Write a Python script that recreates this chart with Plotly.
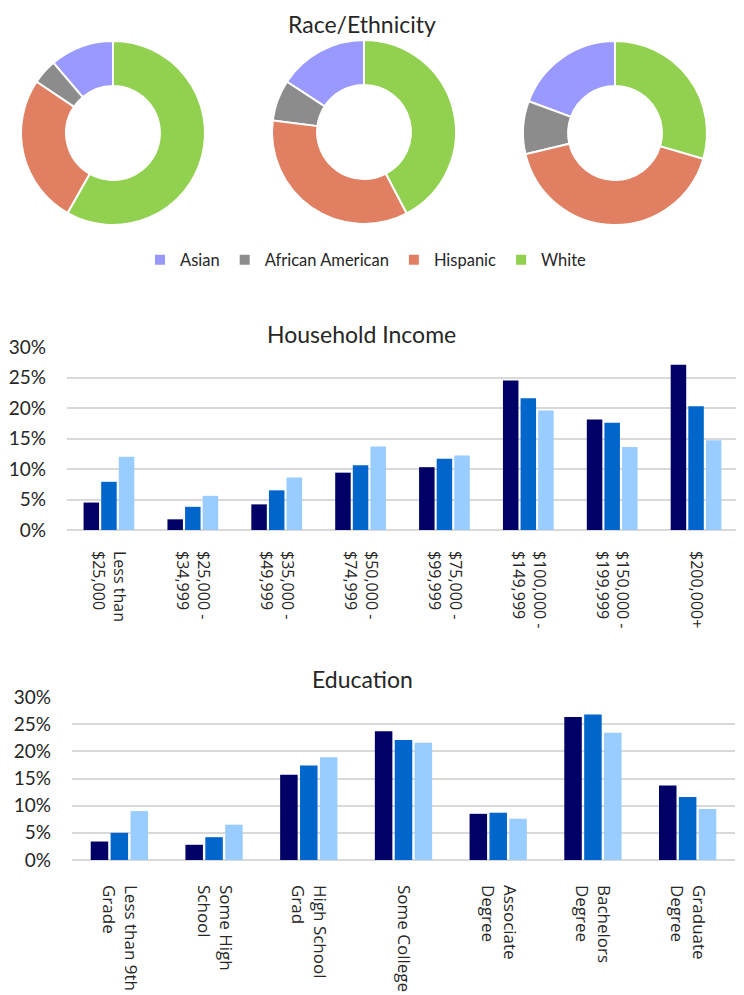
import plotly.graph_objects as go

# ---------------- data ----------------
race_labels = ["Asian", "African American", "Hispanic", "White"]
race_colors = ["#9999FF", "#8C8C8C", "#E07F62", "#92D050"]
race_group1 = [11.2, 4.4, 26.2, 58.2]
race_group2 = [15.8, 7.2, 34.7, 42.3]
race_group3 = [19.4, 9.3, 41.8, 29.5]

income_cats = ["Less than<br>$25,000", "$25,000 -<br>$34,999", "$35,000 -<br>$49,999",
               "$50,000 -<br>$74,999", "$75,000 -<br>$99,999", "$100,000 -<br>$149,999",
               "$150,000 -<br>$199,999", "$200,000+"]
income_s1 = [4.5, 1.75, 4.2, 9.4, 10.3, 24.5, 18.1, 27.1]
income_s2 = [7.9, 3.8, 6.5, 10.6, 11.7, 21.6, 17.6, 20.3]
income_s3 = [12.0, 5.6, 8.6, 13.7, 12.2, 19.6, 13.6, 14.7]

edu_cats = ["Less than 9th<br>Grade", "Some High<br>School", "High School<br>Grad",
            "Some College", "Associate<br>Degree", "Bachelors<br>Degree", "Graduate<br>Degree"]
edu_s1 = [3.4, 2.8, 15.7, 23.7, 8.5, 26.3, 13.7]
edu_s2 = [5.0, 4.2, 17.4, 22.1, 8.7, 26.8, 11.6]
edu_s3 = [9.0, 6.5, 18.9, 21.6, 7.6, 23.4, 9.4]

series_names = ["Series 1", "Series 2", "Series 3"]
bar_colors = ["#000066", "#0066CC", "#99CCFF"]
pct_ticks = [0, 5, 10, 15, 20, 25, 30]
pct_text = [f"{t}%" for t in pct_ticks]

# page body has an 8px margin, so the figure fits inside the window
OFF = 8
W, H = 744 - OFF, 995 - OFF
def px(x): return (x - OFF) / W
def py(y): return 1 - (y - OFF) / H

fig = go.Figure()

# ---------------- donuts ----------------
donut_centers = [(113, 133), (364, 132), (615, 133)]
R = 92
for i, (vals, (cx, cy)) in enumerate(zip([race_group1, race_group2, race_group3], donut_centers)):
    # counterclockwise from 12 o'clock (plotly offsets ccw start by first slice)
    rot = -vals[0] / sum(vals) * 360
    fig.add_trace(go.Pie(
        labels=race_labels, values=vals, sort=False, direction="counterclockwise",
        rotation=rot, hole=0.51, textinfo="none", hoverinfo="label+percent",
        marker=dict(colors=race_colors, line=dict(color="white", width=2)),
        domain=dict(x=[px(cx - R), px(cx + R)], y=[py(cy + R), py(cy - R)]),
        showlegend=(i == 0),
    ))

# ---------------- bars ----------------
for name, col, v in zip(series_names, bar_colors, [income_s1, income_s2, income_s3]):
    fig.add_trace(go.Bar(x=income_cats, y=v, name=name, marker_color=col,
                         marker_line_width=0, showlegend=False,
                         xaxis="x", yaxis="y"))
for name, col, v in zip(series_names, bar_colors, [edu_s1, edu_s2, edu_s3]):
    fig.add_trace(go.Bar(x=edu_cats, y=v, name=name, marker_color=col,
                         marker_line_width=0, showlegend=False,
                         xaxis="x2", yaxis="y2"))

title_font = dict(family="Lato, Open Sans, sans-serif", size=23, color="#262626")
ytick_font = dict(family="Lato, Open Sans, sans-serif", size=19, color="#262626")

yaxis_common = dict(range=[0, 30], tickmode="array", tickvals=pct_ticks, ticktext=pct_text,
                    showgrid=True, gridcolor="#D9D9D9", gridwidth=1.5,
                    zeroline=True, zerolinecolor="#D9D9D9", zerolinewidth=1.5,
                    showline=False, ticks="", tickfont=ytick_font,
                    ticklabelstandoff=20, fixedrange=True, automargin=False)
xaxis_common = dict(tickangle=90, showline=False, ticks="",
                    showgrid=False, zeroline=False, fixedrange=True, automargin=False)

fig.update_layout(
    template="none",
    width=W, height=H,
    margin=dict(l=0, r=0, t=0, b=0, pad=0, autoexpand=False),
    paper_bgcolor="white", plot_bgcolor="white",
    barmode="group", bargap=0.37, bargroupgap=0.12,
    xaxis=dict(domain=[px(67), px(738)], anchor="y", ticklabelstandoff=20,
               tickfont=dict(family="Open Sans, Noto Sans, sans-serif", size=16, color="#262626"),
               **xaxis_common),
    yaxis=dict(domain=[py(530), py(347)], anchor="x", **yaxis_common),
    xaxis2=dict(domain=[px(72), px(735)], anchor="y2", ticklabelstandoff=24,
                tickfont=dict(family="Open Sans, Noto Sans, sans-serif", size=17, color="#262626"),
                **xaxis_common),
    yaxis2=dict(domain=[py(860), py(697)], anchor="x2", **yaxis_common),
    legend=dict(orientation="h", x=px(366), xanchor="center", y=py(260), yanchor="middle",
                font=dict(family="Lato, Open Sans, sans-serif", size=16.5, color="#262626"),
                traceorder="normal", bgcolor="rgba(0,0,0,0)"),
    annotations=[
        dict(text="Race/Ethnicity", x=px(362), y=py(8), xref="paper", yref="paper",
             showarrow=False, font=title_font, xanchor="center", yanchor="top"),
        dict(text="Household Income", x=px(361), y=py(334), xref="paper", yref="paper",
             showarrow=False, font=title_font, xanchor="center", yanchor="middle"),
        dict(text="Education", x=px(362), y=py(679), xref="paper", yref="paper",
             showarrow=False, font=title_font, xanchor="center", yanchor="middle"),
    ],
)

fig.write_html("out.html")
